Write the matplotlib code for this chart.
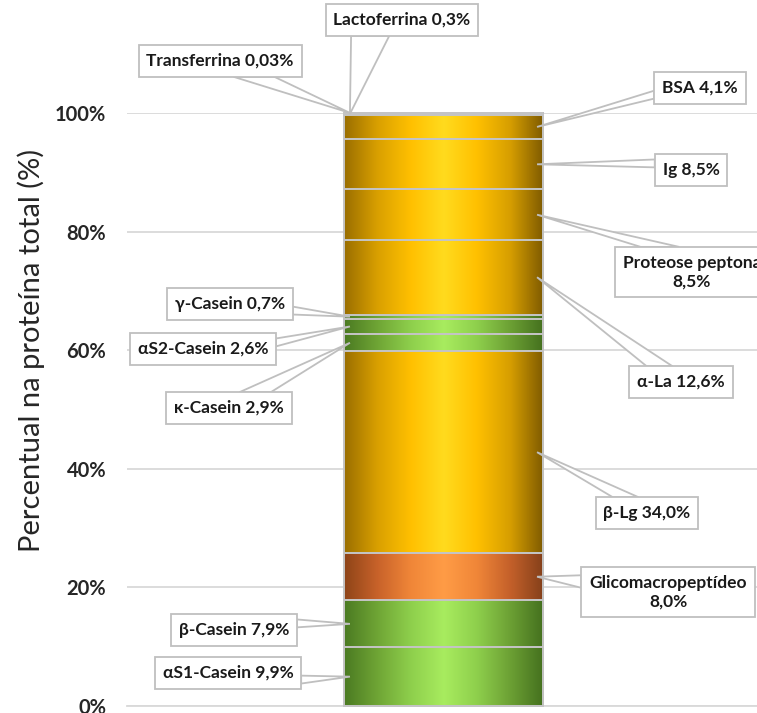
import numpy as np
import matplotlib
matplotlib.use("Agg")
import matplotlib.pyplot as plt
from matplotlib.colors import LinearSegmentedColormap
from matplotlib.patches import Rectangle, Polygon
from matplotlib.transforms import IdentityTransform

# Protein fractions, stacked from the bottom of the column upwards
proteins = ["αS1-Casein", "β-Casein", "Glicomacropeptídeo", "β-Lg", "κ-Casein",
            "αS2-Casein", "γ-Casein", "α-La", "Proteose peptona", "Ig", "BSA",
            "Lactoferrina", "Transferrina"]
shares = [9.9, 7.9, 8.0, 34.0, 2.9, 2.6, 0.7, 12.6, 8.5, 8.5, 4.1, 0.3, 0.03]
tick_values = [0, 20, 40, 60, 80, 100]
tick_labels = ["0%", "20%", "40%", "60%", "80%", "100%"]
y_title = "Percentual na proteína total (%)"

# Styling
families = ["green", "green", "orange", "yellow", "green", "green", "green",
            "yellow", "yellow", "yellow", "yellow", "purple", "purple"]
gradients = {
    "yellow": ["#9A6E00", "#D9A000", "#FFC000", "#FFDB1E", "#FFC000", "#D69E00", "#7E5A00"],
    "green": ["#4B7A22", "#6FA535", "#8ECF4C", "#A8EC5F", "#8ECF4C", "#6CA034", "#44701E"],
    "orange": ["#8E4418", "#C8622A", "#F08638", "#FF9C46", "#F08638", "#C4602A", "#84401A"],
    "purple": ["#4A2E78", "#6E50A8", "#8F74C8", "#A890DC", "#8F74C8", "#6E50A8", "#4A2E78"],
}
# callout centres (figure pixels, measured from the top-left corner)
callout_xy = [(228, 673), (234, 630), (668, 592), (647, 513), (229, 408),
              (203, 349), (230, 304), (681, 382), (692, 272), (691, 170),
              (700, 88), (402, 20), (220, 61)]
two_line = {"Glicomacropeptídeo", "Proteose peptona"}

W, H = 757, 713
fig = plt.figure(figsize=(W / 100, H / 100), dpi=100)
ax = fig.add_axes([127 / W, 7 / H, (W - 127) / W, (706 - 113) / H])

bar_w = 1.0
bottoms = np.concatenate([[0], np.cumsum(shares)[:-1]])
for b, v, fam in zip(bottoms, shares, families):
    cmap = LinearSegmentedColormap.from_list(fam, gradients[fam])
    grad = np.linspace(0, 1, 256).reshape(1, -1)
    ax.imshow(grad, cmap=cmap, extent=(-bar_w / 2, bar_w / 2, b, b + v),
              aspect="auto", interpolation="bilinear", zorder=2, clip_on=False)
    ax.add_patch(Rectangle((-bar_w / 2, b), bar_w, v, fill=False,
                           ec="#C4C4C4", lw=1.4, zorder=3, clip_on=False))

ax.set_xlim(-1.59, 1.575)
ax.set_ylim(0, 100)
ax.set_yticks(tick_values)
ax.set_yticklabels(tick_labels, fontsize=14.5, fontweight="bold",
                   family="Lato", color="#262626")
ax.tick_params(axis="y", length=0, pad=15)
ax.set_xticks([])
ax.yaxis.grid(True, color="#D9D9D9", lw=1.3, zorder=0)
ax.set_axisbelow(True)
for side in ("left", "right", "top"):
    ax.spines[side].set_visible(False)
ax.spines["bottom"].set_color("#D9D9D9")
ax.spines["bottom"].set_linewidth(1.3)

fig.text(31, H - 350, y_title, transform=IdentityTransform(), rotation=90,
         ha="center", va="center", fontsize=21, family="Lato", color="#262626")


def fmt(v):
    s = f"{v:.2f}" if v < 0.1 else f"{v:.1f}"
    return s.replace(".", ",") + "%"


texts = []
for name, v, (px, py) in zip(proteins, shares, callout_xy):
    sep = "\n" if name in two_line else " "
    t = fig.text(px, H - py, name + sep + fmt(v), transform=IdentityTransform(),
                 ha="center", va="center", multialignment="center",
                 fontsize=12.5, fontweight="bold", family="Lato", color="#1A1A1A",
                 linespacing=1.2, zorder=5,
                 bbox=dict(boxstyle="square,pad=0.45", fc="white",
                           ec="#BFBFBF", lw=1.3))
    texts.append(t)

fig.canvas.draw()
renderer = fig.canvas.get_renderer()
bar_cx = ax.transData.transform((0, 0))[0]

# Wedge-shaped callout pointers from each box to the middle of its segment
for t, b, v in zip(texts, bottoms, shares):
    bb = t.get_bbox_patch().get_window_extent(renderer)
    x0, y0, x1, y1 = bb.x0, bb.y0, bb.x1, bb.y1
    w, h = x1 - x0, y1 - y0
    cx, cy = (x0 + x1) / 2, (y0 + y1) / 2
    side = 1 if cx > bar_cx else -1
    tx, ty = ax.transData.transform((side * 0.47 * bar_w, b + v / 2))
    dxp = tx - cx
    dyp = cy - ty  # positive when the tip lies below the box
    dq = dxp * h / w
    dz = abs(dyp) - abs(dq)
    xa, xb = ((7, 10) if dxp > 0 else (2, 5))
    ya, yb = ((7, 10) if dyp > 0 else (2, 5))

    def pt(lx, ly):
        return (x0 + lx, y1 - ly)

    if dz > 0:
        ly = 0 if dyp < 0 else h
        p1, p2 = pt(w * xa / 12, ly), pt(w * xb / 12, ly)
    else:
        lx = 0 if dxp < 0 else w
        p1, p2 = pt(lx, h * ya / 12), pt(lx, h * yb / 12)
    fig.add_artist(Polygon([p1, (tx, ty), p2], closed=True, fc="white",
                           ec="#BFBFBF", lw=1.3, zorder=4,
                           transform=IdentityTransform()))

fig.savefig("out.png", dpi=100, facecolor="white")
